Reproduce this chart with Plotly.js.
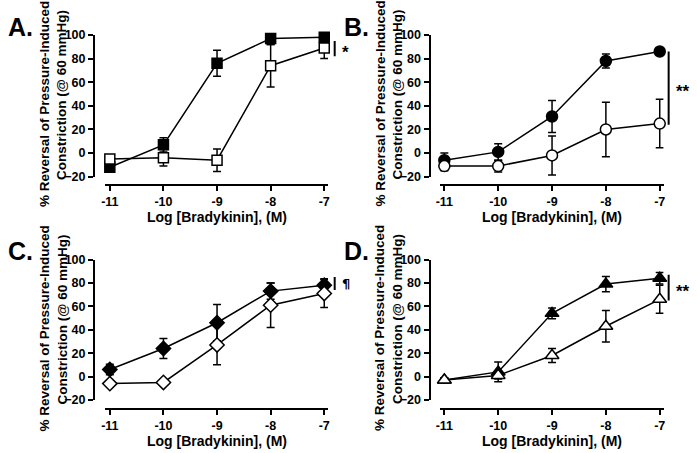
<!DOCTYPE html>
<html>
<head>
<meta charset="utf-8">
<script src="https://cdn.plot.ly/plotly-3.0.1.min.js"></script>
<style>html,body{margin:0;padding:0;background:#fff;}#chart{width:697px;height:453px;}</style>
</head>
<body>
<div id="chart"></div>
<script>
// ---- data ----
const logDose = [-11, -10, -9, -8, -7];
const tickLabels = ['-11', '-10', '-9', '-8', '-7'];

const aFilled = [-12, 7, 76, 97, 98];
const aFilledErr = [2, 6, 11, 5, 2];
const aOpen = [-5, -4, -6, 74, 89];
const aOpenErr = [2, 7, 9.5, 18, 9];

const bFilled = [-6, 1, 31, 78, 86];
const bFilledErr = [6, 7, 13.5, 6, 2];
const bOpen = [-11, -11, -2, 20, 25];
const bOpenErr = [4, 5, 16.5, 23, 20.5];

const cFilled = [6, 24, 46, 73, 78];
const cFilledErr = [4.5, 8.5, 15.5, 7, 5.5];
const cOpen = [-6, -5, 27, 61, 71];
const cOpenErr = [2, 2, 17, 19, 12];

const dFilled = [-3, 4, 54, 79, 84];
const dFilledErr = [2, 8.5, 4.5, 6.5, 5];
const dOpen = [-3, 1, 18, 43, 66];
const dOpenErr = [2, 3, 6, 13.5, 12];

const panelLetters = ['A.', 'B.', 'C.', 'D.'];
const sigLabels = ['*', '**', '¶', '**'];
const sigLow = [82, 24, 74, 65];
const sigHigh = [95, 86, 85, 87];

const xTitle = 'Log [Bradykinin], (M)';
const yTitle1 = '% Reversal of Pressure-Induced';
const yTitle2 = 'Constriction (@ 60 mmHg)';

// ---- layout geometry ----
const W = 697, H = 453;
const FONT = 'Liberation Sans, Arial, sans-serif';
const cols = [{x0: 105, x1: 328, yax: 94}, {x0: 439.5, x1: 663.5, yax: 429.5}];
const rows = [{top: 35, bot: 176.7, xax: 185}, {top: 259.5, bot: 400, xax: 409}];
const panels = [
  {r: 0, c: 0, f: aFilled, fe: aFilledErr, o: aOpen, oe: aOpenErr, sym: 'square'},
  {r: 0, c: 1, f: bFilled, fe: bFilledErr, o: bOpen, oe: bOpenErr, sym: 'circle'},
  {r: 1, c: 0, f: cFilled, fe: cFilledErr, o: cOpen, oe: cOpenErr, sym: 'diamond'},
  {r: 1, c: 1, f: dFilled, fe: dFilledErr, o: dOpen, oe: dOpenErr, sym: 'triangle-up'}
];
const symSize = {'square': 10, 'circle': 11, 'diamond': 11, 'triangle-up': 12};

const data = [];
const layout = {
  width: W, height: H,
  margin: {l: 0, r: 0, t: 0, b: 0},
  paper_bgcolor: '#fff', plot_bgcolor: 'rgba(0,0,0,0)',
  showlegend: false,
  font: {family: FONT, color: '#000'},
  shapes: [], annotations: []
};

panels.forEach((p, i) => {
  const col = cols[p.c], row = rows[p.r];
  const n = i + 1;
  const xk = 'xaxis' + (i ? n : ''), yk = 'yaxis' + (i ? n : '');
  const xr = 'x' + (i ? n : ''), yr = 'y' + (i ? n : '');
  layout[xk] = {
    domain: [col.x0 / W, col.x1 / W],
    anchor: 'free', position: 1 - row.xax / H,
    range: [-11.09, -6.93], tickvals: logDose, ticktext: tickLabels,
    showline: true, linewidth: 2, linecolor: '#000',
    ticks: 'outside', ticklen: 5, tickwidth: 2, tickcolor: '#000',
    showgrid: false, zeroline: false, fixedrange: true,
    tickfont: {family: FONT, size: 12.5, weight: 'bold', color: '#000'}
  };
  layout[yk] = {
    domain: [1 - row.bot / H, 1 - row.top / H],
    anchor: 'free', position: col.yax / W,
    range: [-20, 100], dtick: 20, tick0: 0,
    showline: true, linewidth: 2, linecolor: '#000',
    ticks: 'outside', ticklen: 5, tickwidth: 2, tickcolor: '#000',
    showgrid: false, zeroline: false, fixedrange: true,
    tickfont: {family: FONT, size: 12.5, weight: 'bold', color: '#000'}
  };
  const common = {
    x: logDose, xaxis: xr, yaxis: yr, type: 'scatter', mode: 'lines+markers',
    line: {color: '#000', width: 1.5}, cliponaxis: false
  };
  data.push(Object.assign({}, common, {
    y: p.f,
    error_y: {type: 'data', array: p.fe, visible: true, color: '#000', thickness: 1.5, width: 4},
    marker: {symbol: p.sym, size: symSize[p.sym], color: '#000', line: {color: '#000', width: 1.5}}
  }));
  data.push(Object.assign({}, common, {
    y: p.o,
    error_y: {type: 'data', array: p.oe, visible: true, color: '#000', thickness: 1.5, width: 4},
    marker: {symbol: p.sym, size: symSize[p.sym], color: '#fff', line: {color: '#000', width: 1.5}}
  }));

  const cx = (col.x0 + col.x1) / 2;
  // x title
  layout.annotations.push({
    xref: 'paper', yref: 'paper', x: cx / W, y: 1 - (row.xax + 32) / H,
    text: xTitle, showarrow: false, xanchor: 'center', yanchor: 'middle',
    font: {family: FONT, size: 14, weight: 'bold', color: '#000'}
  });
  // y titles (two lines)
  const off = col.yax - 94;
  const voff = row.top - 35;
  layout.annotations.push({
    xref: 'paper', yref: 'paper', x: (44 + off) / W, y: 1 - (104 + voff) / H,
    text: yTitle1, showarrow: false, textangle: -90, xanchor: 'center', yanchor: 'middle',
    font: {family: FONT, size: 13.5, weight: 'bold', color: '#000'}
  });
  layout.annotations.push({
    xref: 'paper', yref: 'paper', x: (62 + off) / W, y: 1 - (95 + voff) / H,
    text: yTitle2, showarrow: false, textangle: -90, xanchor: 'center', yanchor: 'middle',
    font: {family: FONT, size: 13.5, weight: 'bold', color: '#000'}
  });
  // panel letter
  layout.annotations.push({
    xref: 'paper', yref: 'paper', x: (6 + off) / W, y: 1 - (27 + voff) / H,
    text: panelLetters[i], showarrow: false, xanchor: 'left', yanchor: 'middle',
    font: {family: FONT, size: 25, weight: 'bold', color: '#000'}
  });
  // significance bar
  const sx = p.c === 0 ? 1.03 : 1.023;
  layout.shapes.push({
    type: 'line', xref: xr + ' domain', yref: yr,
    x0: sx, x1: sx, y0: sigLow[i], y1: sigHigh[i],
    line: {color: '#000', width: 2}
  });
  const isPilcrow = sigLabels[i] === '¶';
  layout.annotations.push({
    xref: xr + ' domain', yref: yr, x: sx + 0.025, y: (sigLow[i] + sigHigh[i]) / 2 - (isPilcrow ? 0 : 3),
    text: sigLabels[i], showarrow: false, xanchor: 'left', yanchor: 'middle',
    font: {family: isPilcrow ? 'DejaVu Sans' : FONT, size: isPilcrow ? 13 : 17, weight: 'bold', color: '#000'}
  });
});

Plotly.newPlot('chart', data, layout, {displayModeBar: false, staticPlot: true});
</script>
</body>
</html>
